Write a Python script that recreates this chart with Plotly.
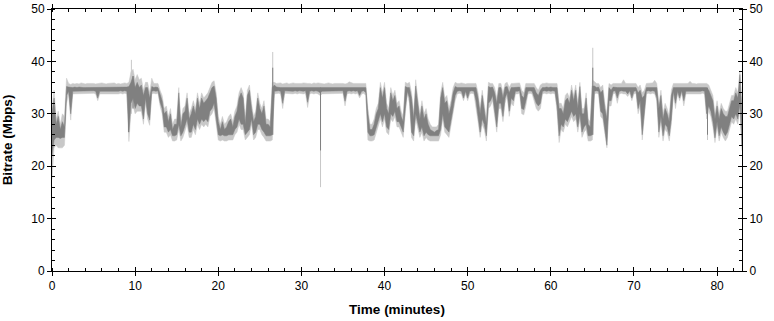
import numpy as np
import plotly.graph_objects as go

# Samples every 0.25 minute from 0 to 83 min (rows = one minute, 4 samples)
sample_step_min = 0.25

dark_lo = [
    22, 25, 25.5, 25.5,          # 0
    25.3, 25.5, 25.5, 33.5,      # 1
    34.3, 30, 34.3, 34.3,        # 2
    34.4, 34.3, 34.4, 34.3,      # 3
    34.3, 34.4, 34.3, 34.4,      # 4
    34.4, 34.3, 33.0, 34.3,      # 5
    34.3, 34.4, 34.3, 34.4,      # 6
    34.4, 34.3, 34.4, 34.3,      # 7
    34.3, 34.4, 34.3, 34.4,      # 8
    34.3, 26.5, 32, 33,          # 9
    31, 32, 31.5, 31.5,          # 10
    29, 33, 30, 28.8,            # 11
    34.3, 34.4, 34.3, 34.4,      # 12
    32.2, 31, 27.5, 27.5,        # 13
    26.5, 27, 25.8, 25.8,        # 14
    26, 28, 25.8, 26.5,          # 15
    27.5, 29, 26.5, 26.5,        # 16
    28, 27, 29, 28,              # 17
    29, 28.5, 29, 28.5,          # 18
    30.5, 31, 32, 29,            # 19
    26, 25.8, 26, 25.8,          # 20
    25.8, 26, 26, 26,            # 21
    27, 27.5, 29, 28,            # 22
    28, 26, 26.5, 27,            # 23
    29, 26, 26.5, 28,            # 24
    28, 27, 26.5, 25.8,          # 25
    25.8, 25.8, 26, 34.3,        # 26
    34.3, 34.4, 34.3, 32,        # 27
    34.4, 34.3, 34.4, 34.3,      # 28
    34.3, 34.4, 34.3, 34.4,      # 29
    34.4, 34.3, 34.4, 32.2,      # 30
    34.3, 34.4, 34.3, 34.4,      # 31
    34.3, 34.0, 34.3, 34.4,      # 32
    34.4, 34.3, 34.4, 34.3,      # 33
    34.3, 34.4, 34.3, 34.4,      # 34
    34.4, 32.4, 34.3, 34.4,      # 35
    34.3, 34.4, 34.3, 34.4,      # 36
    33.5, 34.3, 34.4, 34.0,      # 37
    26.5, 25.8, 25.8, 26,        # 38
    27, 28.5, 30, 28.5,          # 39
    30, 27.5, 27, 30,            # 40
    29.5, 30.5, 28.5, 28.5,      # 41
    27.5, 26.5, 31, 34.3,        # 42
    33, 26.5, 25.8, 30,          # 43
    28.5, 26.5, 27.5, 25.8,      # 44
    26.5, 26, 25.8, 25.8,        # 45
    25.7, 25.8, 25.8, 27,        # 46
    30, 27.5, 27, 26.5,          # 47
    29, 31, 33.5, 34.3,          # 48
    34.4, 34.3, 33, 34.3,        # 49
    33, 34.3, 34.4, 34.3,        # 50
    32.5, 29.5, 26.5, 29,        # 51
    28, 25.8, 32, 32.5,          # 52
    33.5, 31, 27.5, 32,          # 53
    32, 29.5, 33, 34,            # 54
    30.5, 33, 32.5, 34.3,        # 55
    34.3, 34.4, 31, 30.8,        # 56
    32.5, 34.3, 34.4, 34.3,      # 57
    33, 32, 31.5, 32,            # 58
    34.3, 34.4, 34.3, 34.4,      # 59
    34.3, 34.4, 34.3, 31.5,      # 60
    25.8, 28, 27.5, 29,          # 61
    28.5, 29.5, 30.5, 29.5,      # 62
    30, 27.5, 30, 26.5,          # 63
    27.5, 28, 25.8, 25.8,        # 64
    26, 34.3, 34.4, 34.3,        # 65
    30.5, 30, 27.5, 24,          # 66
    32.5, 32.5, 34.3, 34.4,      # 67
    33, 34.3, 34.4, 34.3,        # 68
    34.3, 33.8, 34.4, 33,        # 69
    34.3, 34.4, 31, 32.5,        # 70
    26, 30.5, 34.3, 34.4,        # 71
    34.3, 34.4, 34.3, 33,        # 72
    26.5, 29.5, 25.8, 28,        # 73
    27.5, 25.8, 29, 34.3,        # 74
    32, 34.3, 33, 34.4,          # 75
    32.5, 34.3, 34.4, 34.3,      # 76
    34.4, 34.3, 34.4, 34.3,      # 77
    34.3, 34.4, 34.3, 30,        # 78
    31.5, 30.5, 28.5, 25.4,      # 79
    28.5, 25.8, 27.5, 26.5,      # 80
    25.8, 26.5, 28, 29.5,        # 81
    29, 30, 29, 32,              # 82
    24,                          # 83
]

dark_hi = [
    30, 33, 28, 29.5,            # 0
    27, 28.5, 27.5, 35.2,        # 1
    35.1, 35.0, 35.0, 35.1,      # 2
    35.0, 35.1, 35.0, 35.0,      # 3
    35.0, 35.0, 35.1, 35.0,      # 4
    35.0, 35.0, 35.0, 35.1,      # 5
    35.1, 35.0, 35.0, 35.0,      # 6
    35.0, 35.1, 35.0, 35.0,      # 7
    35.0, 35.0, 35.1, 35.0,      # 8
    35.1, 35.2, 36, 37.2,        # 9
    35, 36, 35, 35.5,            # 10
    33.5, 35, 35, 33,            # 11
    35.2, 35.0, 35.1, 35.0,      # 12
    33.5, 32.5, 30, 30.5,        # 13
    28.5, 30, 27, 28,            # 14
    28, 34, 27.5, 30,            # 15
    30.5, 33, 29, 30,            # 16
    31.5, 30, 33, 31,            # 17
    33, 32, 32.5, 33,            # 18
    34, 35, 35.3, 33,            # 19
    28.5, 27, 28.5, 27,          # 20
    27.5, 28.5, 29, 27.5,        # 21
    29.5, 30.5, 33, 34,          # 22
    33, 28, 33.5, 34.5,          # 23
    31, 28.5, 29.5, 33,          # 24
    31, 30, 31.5, 28,            # 25
    28, 27.5, 35, 35.5,          # 26
    35.1, 35.0, 35.0, 35.0,      # 27
    35.0, 35.1, 35.0, 35.0,      # 28
    35.0, 35.0, 35.1, 35.0,      # 29
    35.0, 35.1, 35.0, 35.0,      # 30
    35.0, 35.0, 35.1, 35.0,      # 31
    35.0, 35.1, 35.0, 35.0,      # 32
    35.0, 35.0, 35.1, 35.0,      # 33
    35.1, 35.0, 35.0, 35.0,      # 34
    35.0, 35.0, 35.0, 35.1,      # 35
    35.0, 35.0, 35.1, 35.0,      # 36
    35.0, 35.1, 35.0, 35.0,      # 37
    30, 27, 27, 28,              # 38
    30, 31, 35, 33,              # 39
    35, 31, 30, 34,              # 40
    32.5, 33.5, 31, 31.5,        # 41
    29.5, 28.5, 35.2, 35.0,      # 42
    35, 33, 29, 35.3,            # 43
    32, 29, 31.5, 29,            # 44
    30, 28, 27, 26.8,            # 45
    26.5, 26.8, 27, 33,          # 46
    35, 32, 32.5, 30,            # 47
    31.5, 34, 35.2, 35.0,        # 48
    35.0, 35.1, 35.0, 35.0,      # 49
    35.0, 35.0, 35.1, 35.0,      # 50
    35, 33, 30, 33.5,            # 51
    31, 28, 35.2, 35,            # 52
    35.1, 34, 32, 35,            # 53
    35, 33, 35.1, 35.2,          # 54
    34, 35, 35, 35.0,            # 55
    35.0, 35.1, 33.5, 33,        # 56
    35, 35.0, 35.0, 35.1,        # 57
    35.0, 34, 33.5, 34.5,        # 58
    35.0, 35.0, 35.1, 35.0,      # 59
    35.1, 35.0, 35.0, 35,        # 60
    31, 31, 30, 32.5,            # 61
    33, 32, 34.5, 32.5,          # 62
    34.5, 31, 35.2, 30,          # 63
    30, 33, 28, 27.5,            # 64
    35.3, 35.3, 35.0, 35.1,      # 65
    34, 34.5, 31, 29,            # 66
    35, 34.5, 35.1, 35.0,        # 67
    35.0, 35.0, 35.0, 35.1,      # 68
    35.0, 35.0, 35.1, 35.0,      # 69
    35.0, 35.0, 34, 34.5,        # 70
    33, 33.5, 35.0, 35.0,        # 71
    35.0, 35.1, 35.0, 35.0,      # 72
    31, 33.5, 29, 31,            # 73
    30, 28.5, 33.5, 35.0,        # 74
    35.0, 35.0, 35.0, 35.1,      # 75
    35.0, 35.0, 35.0, 35.1,      # 76
    35.0, 35.1, 35.0, 35.0,      # 77
    35.0, 35.0, 35.1, 35.0,      # 78
    34.5, 33.5, 32.5, 29,        # 79
    31.5, 29, 31, 30,            # 80
    29.5, 29.5, 31, 32.5,        # 81
    32.5, 34, 33, 37.5,          # 82
    30,                          # 83
]

light_lo = [
    17.5, 23.5, 24, 23.5,        # 0
    23.5, 23.5, 24, 32,          # 1
    33.8, 28.8, 33.8, 33.9,      # 2
    33.9, 33.8, 33.9, 33.8,      # 3
    33.8, 33.9, 33.8, 33.9,      # 4
    33.9, 33.8, 32.5, 33.8,      # 5
    33.8, 33.9, 33.8, 33.9,      # 6
    33.9, 33.8, 33.9, 33.8,      # 7
    33.8, 33.9, 33.8, 33.9,      # 8
    33.8, 24.7, 30.5, 31.5,      # 9
    30, 30.5, 30.5, 30.5,        # 10
    28, 32, 29, 27.8,            # 11
    33.8, 33.9, 33.8, 33.9,      # 12
    31.5, 30, 26.5, 26.5,        # 13
    25.5, 26, 24.8, 24.8,        # 14
    25, 27, 24.8, 25.5,          # 15
    26.5, 28, 25.5, 25.5,        # 16
    27, 26, 28, 27,              # 17
    28, 27.5, 28, 27.5,          # 18
    29.5, 30, 31, 28,            # 19
    25, 24.8, 25, 24.8,          # 20
    24.8, 25, 25, 25,            # 21
    26, 26.5, 28, 27,            # 22
    27, 25, 25.5, 26,            # 23
    28, 25, 25.5, 27,            # 24
    27, 26, 25.5, 24.8,          # 25
    24.8, 24.8, 25, 33.8,        # 26
    33.8, 33.9, 33.8, 31,        # 27
    33.9, 33.8, 33.9, 33.8,      # 28
    33.8, 33.9, 33.8, 33.9,      # 29
    33.9, 33.8, 33.9, 31.2,      # 30
    33.8, 33.9, 33.8, 33.9,      # 31
    33.8, 33.5, 33.8, 33.9,      # 32
    33.9, 33.8, 33.9, 33.8,      # 33
    33.8, 33.9, 33.8, 33.9,      # 34
    33.9, 31.5, 33.8, 33.9,      # 35
    33.8, 33.9, 33.8, 33.9,      # 36
    33, 33.8, 33.9, 33.5,        # 37
    25, 24.8, 24.8, 25,          # 38
    26, 27.5, 29, 27.5,          # 39
    29, 26.5, 26, 29,            # 40
    28.5, 29.5, 27.5, 27.5,      # 41
    26.5, 25.5, 30, 33.8,        # 42
    32, 25.5, 24.8, 29,          # 43
    27.5, 25.5, 26.5, 24.8,      # 44
    25.5, 25, 24.8, 24.8,        # 45
    24.7, 24.8, 24.8, 26,        # 46
    29, 26.5, 26, 25.5,          # 47
    28, 30, 32.5, 33.8,          # 48
    33.9, 33.8, 32.5, 33.8,      # 49
    32.5, 33.8, 33.9, 33.8,      # 50
    31.5, 28.5, 25.5, 28,        # 51
    27, 24.8, 31, 31.5,          # 52
    32.5, 30, 26.5, 31,          # 53
    31, 28.5, 32, 33.5,          # 54
    29.5, 32, 31.5, 33.8,        # 55
    33.8, 33.9, 30, 29.8,        # 56
    31.5, 33.8, 33.9, 33.8,      # 57
    32.5, 31, 30.5, 31,          # 58
    33.8, 33.9, 33.8, 33.9,      # 59
    33.8, 33.9, 33.8, 30.5,      # 60
    24.5, 27, 26.5, 28,          # 61
    27.5, 28.5, 29.5, 28.5,      # 62
    29, 26.5, 29, 25.5,          # 63
    26.5, 27, 24.8, 24.8,        # 64
    25, 33.8, 33.9, 33.8,        # 65
    29.5, 29, 26.5, 23.5,        # 66
    31.5, 31.5, 33.8, 33.9,      # 67
    32, 33.8, 33.9, 33.8,        # 68
    33.8, 33.3, 33.9, 32.5,      # 69
    33.8, 33.9, 30, 31.5,        # 70
    25, 29.5, 33.8, 33.9,        # 71
    33.8, 33.9, 33.8, 32.5,      # 72
    25.5, 28.5, 24.8, 27,        # 73
    26.5, 24.8, 28, 33.8,        # 74
    31, 33.8, 32.5, 33.9,        # 75
    31.5, 33.8, 33.9, 33.8,      # 76
    33.9, 33.8, 33.9, 33.8,      # 77
    33.8, 33.9, 33.8, 29,        # 78
    30.5, 29.5, 27.5, 24.5,      # 79
    27.5, 24.8, 26.5, 25.5,      # 80
    24.8, 25.5, 27, 28.5,        # 81
    28, 29, 28, 31,              # 82
    23,                          # 83
]

light_hi = [
    31, 34.5, 29, 30.5,          # 0
    28, 30, 29.5, 36.8,          # 1
    35.8, 35.6, 35.8, 35.7,      # 2
    35.8, 35.7, 35.9, 35.8,      # 3
    35.7, 35.8, 35.8, 35.9,      # 4
    35.8, 35.7, 35.8, 35.8,      # 5
    35.9, 35.8, 35.7, 35.8,      # 6
    35.8, 35.8, 35.9, 35.7,      # 7
    35.8, 35.7, 35.8, 35.9,      # 8
    35.8, 36, 38, 38.5,          # 9
    36.5, 37.5, 36.5, 36.8,      # 10
    34.5, 36, 36, 34,            # 11
    36.8, 35.8, 35.8, 35.8,      # 12
    34.5, 33.5, 31, 31.5,        # 13
    29.5, 31, 28, 29,            # 14
    29, 35, 28.5, 31,            # 15
    31.5, 34, 30, 31,            # 16
    32.5, 31, 34, 32,            # 17
    34, 33, 33.5, 34,            # 18
    35, 36, 36.3, 34,            # 19
    29.5, 28, 29.5, 28,          # 20
    28.5, 29.5, 30, 28.5,        # 21
    30.5, 31.5, 34, 35,          # 22
    34, 29, 34.5, 35.5,          # 23
    32, 29.5, 30.5, 34,          # 24
    32, 31, 32.5, 29,            # 25
    29, 28.5, 36, 36,            # 26
    35.8, 35.8, 35.9, 35.7,      # 27
    35.8, 35.9, 35.7, 35.8,      # 28
    35.9, 35.8, 35.8, 35.7,      # 29
    35.8, 35.9, 35.8, 35.8,      # 30
    35.8, 35.7, 35.9, 35.8,      # 31
    35.9, 35.8, 35.8, 35.7,      # 32
    35.8, 35.9, 35.8, 35.7,      # 33
    35.8, 35.8, 35.9, 35.8,      # 34
    35.8, 35.7, 35.8, 36.1,      # 35
    35.9, 35.8, 35.8, 35.8,      # 36
    35.8, 35.8, 35.7, 35.8,      # 37
    31, 28, 28, 29,              # 38
    31, 32, 36, 34,              # 39
    36, 32, 31, 35,              # 40
    33.5, 34.5, 32, 32.5,        # 41
    30.5, 29.5, 36, 35.8,        # 42
    36, 34, 30, 36.5,            # 43
    33, 30, 32.5, 30,            # 44
    31, 29, 28, 27.5,            # 45
    27.5, 27.5, 28, 34,          # 46
    36, 33, 33.5, 31,            # 47
    32.5, 35, 36, 35.8,          # 48
    35.8, 35.9, 35.8, 35.7,      # 49
    35.8, 35.8, 35.9, 35.8,      # 50
    35.8, 34, 31, 34.5,          # 51
    32, 29, 36, 35.8,            # 52
    35.8, 35, 33, 35.8,          # 53
    35.8, 34, 35.8, 36,          # 54
    35, 35.8, 35.8, 35.8,        # 55
    35.8, 35.9, 34.5, 34,        # 56
    35.8, 35.8, 35.8, 35.9,      # 57
    35.8, 35, 34.5, 35.5,        # 58
    35.8, 35.8, 35.9, 35.8,      # 59
    35.8, 35.8, 35.8, 35.8,      # 60
    32, 32, 31, 33.5,            # 61
    34, 33, 35.5, 33.5,          # 62
    35.5, 32, 36, 31,            # 63
    31, 34, 29, 28.5,            # 64
    36.5, 36.2, 35.8, 35.8,      # 65
    35, 35.5, 32, 30,            # 66
    35.8, 35.5, 35.8, 35.8,      # 67
    35.8, 35.8, 35.8, 36.5,      # 68
    35.8, 35.8, 35.8, 35.8,      # 69
    35.8, 35.8, 35, 35.5,        # 70
    34, 34.5, 35.8, 35.8,        # 71
    35.8, 35.9, 36.4, 35.8,      # 72
    32, 34.5, 30, 32,            # 73
    31, 29.5, 34.5, 35.8,        # 74
    35.8, 35.8, 35.8, 35.9,      # 75
    35.8, 35.8, 35.8, 36.2,      # 76
    35.8, 35.8, 35.7, 35.8,      # 77
    35.8, 35.8, 35.9, 35.8,      # 78
    35.5, 34.5, 33.5, 30,        # 79
    32.5, 30, 32, 31,            # 80
    30.5, 30.5, 32, 33.5,        # 81
    33.5, 35, 34, 38.2,          # 82
    31,                          # 83
]

# Isolated one-sample spikes (time in minutes, low and high in Mbps)
light_spike_t = [9.55, 26.55, 32.3, 65.05, 78.85]
light_spike_lo = [30, 26, 16, 26, 25]
light_spike_hi = [40.3, 41.8, 35, 42.6, 35.5]
dark_spike_t = [9.2, 9.75, 26.55, 32.3, 65.05, 78.85]
dark_spike_lo = [26.5, 31, 26, 23, 26, 26]
dark_spike_hi = [35, 37.2, 38.8, 35, 38.8, 35]

x_tick_vals = [0, 10, 20, 30, 40, 50, 60, 70, 80]
y_tick_vals = [0, 10, 20, 30, 40, 50]
x_title = "Time (minutes)"
y_title = "Bitrate (Mbps)"

LIGHT = "#c8c8c8"
DARK = "#808080"
FONT = "Liberation Sans, Arial, sans-serif"

time_min = list(np.arange(len(dark_lo)) * sample_step_min)


def band(lo, hi):
    return time_min + time_min[::-1], list(hi) + list(lo)[::-1]


def spikes(ts, los, his):
    xs, ys = [], []
    for t, lo, hi in zip(ts, los, his):
        xs += [t, t, None]
        ys += [lo, hi, None]
    return xs, ys


fig = go.Figure()
bx, by = band(light_lo, light_hi)
fig.add_trace(go.Scatter(x=bx, y=by, mode="lines", fill="toself", fillcolor=LIGHT,
                         line=dict(color=LIGHT, width=0.5), hoverinfo="skip", showlegend=False))
sx, sy = spikes(light_spike_t, light_spike_lo, light_spike_hi)
fig.add_trace(go.Scatter(x=sx, y=sy, mode="lines", line=dict(color=LIGHT, width=1),
                         hoverinfo="skip", showlegend=False))
bx, by = band(dark_lo, dark_hi)
fig.add_trace(go.Scatter(x=bx, y=by, mode="lines", fill="toself", fillcolor=DARK,
                         line=dict(color=DARK, width=0.5), hoverinfo="skip", showlegend=False))
sx, sy = spikes(dark_spike_t, dark_spike_lo, dark_spike_hi)
fig.add_trace(go.Scatter(x=sx, y=sy, mode="lines", line=dict(color=DARK, width=1),
                         hoverinfo="skip", showlegend=False))
# helper traces so the overlay axes are drawn
fig.add_trace(go.Scatter(x=[None], y=[None], xaxis="x2", yaxis="y2", showlegend=False))
fig.add_trace(go.Scatter(x=[None], y=[None], xaxis="x2", yaxis="y3", showlegend=False))

tick_font = dict(family=FONT, size=12, color="black")
title_font = dict(family=FONT, size=13.5, color="black")

fig.update_layout(
    width=774, height=321,
    margin=dict(l=52, r=32, t=9, b=50),
    paper_bgcolor="white", plot_bgcolor="white",
    font=tick_font,
    hovermode=False,
    xaxis=dict(range=[0, 83], tickvals=x_tick_vals, ticks="outside", ticklen=4,
               tickcolor="black", showline=True, linecolor="black", linewidth=1,
               mirror="ticks", showgrid=False, zeroline=False, automargin=False,
               minor=dict(dtick=2, tick0=0, ticks="inside", ticklen=3, tickcolor="black", showgrid=False),
               title=dict(text="<b>" + x_title + "</b>", standoff=12, font=title_font),
               tickfont=tick_font),
    xaxis2=dict(range=[0, 83], overlaying="x", side="bottom", tickvals=x_tick_vals,
                ticks="inside", ticklen=4, tickcolor="black", showticklabels=False,
                showline=False, mirror="ticks", showgrid=False, zeroline=False, automargin=False),
    yaxis=dict(range=[0, 50], tickvals=y_tick_vals, ticks="outside", ticklen=4,
               tickcolor="black", showline=True, linecolor="black", linewidth=1,
               mirror="ticks", showgrid=False, zeroline=False, automargin=False,
               minor=dict(dtick=2, tick0=0, ticks="inside", ticklen=3, tickcolor="black", showgrid=False),
               title=dict(text="<b>" + y_title + "</b>", standoff=16, font=title_font),
               tickfont=tick_font),
    yaxis2=dict(range=[0, 50], overlaying="y", side="left", tickvals=y_tick_vals,
                ticks="inside", ticklen=4, tickcolor="black", showticklabels=False,
                showline=False, mirror="ticks", showgrid=False, zeroline=False, automargin=False),
    yaxis3=dict(range=[0, 50], overlaying="y", side="right", tickvals=y_tick_vals,
                ticks="outside", ticklen=4, tickcolor="rgba(0,0,0,0)", showticklabels=True,
                showline=False, showgrid=False, zeroline=False, automargin=False,
                tickfont=tick_font),
)

fig.write_html("out.html",
               config={"displayModeBar": False, "staticPlot": True},
               post_script="document.body.style.margin='0';document.body.style.overflow='hidden';")
